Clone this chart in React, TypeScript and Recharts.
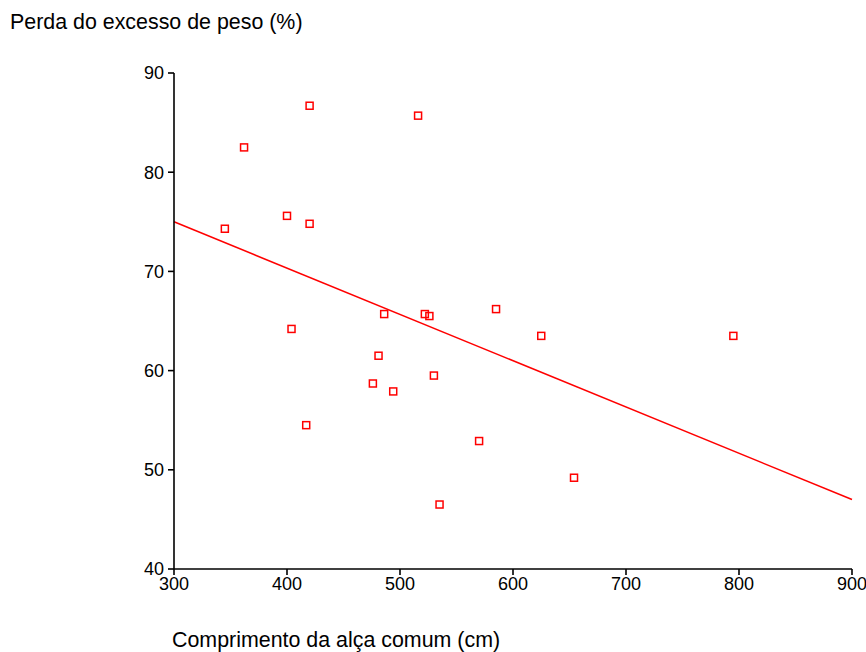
import React from "react";
import { ScatterChart, Scatter, XAxis, YAxis, ReferenceLine } from "recharts";

const lengthCm = [420, 516, 362, 400, 420, 345, 585, 486, 522, 526, 625, 795, 404, 481, 476, 494, 530, 417, 570, 654, 535];
const weightLossPct = [86.7, 85.7, 82.5, 75.6, 74.8, 74.3, 66.2, 65.7, 65.7, 65.5, 63.5, 63.5, 64.2, 61.5, 58.7, 57.9, 59.5, 54.5, 52.9, 49.2, 46.5];
const fitX = [300, 900];
const fitY = [75.0, 47.0];
const xTicks = [300, 400, 500, 600, 700, 800, 900];
const yTicks = [40, 50, 60, 70, 80, 90];
const yTitle = "Perda do excesso de peso (%)";
const xTitle = "Comprimento da alça comum (cm)";

const points = lengthCm.map((x, i) => ({ x, y: weightLossPct[i] }));

const FONT = "'Liberation Sans', Arial, sans-serif";

const HollowSquare = (props: any) => {
  const { cx, cy } = props;
  if (cx == null || cy == null) return null;
  return <rect x={cx - 3.5} y={cy - 3.5} width={7} height={7} fill="none" stroke="#ff0000" strokeWidth={1.5} />;
};

export default function App() {
  return (
    <div style={{ position: "absolute", left: 0, top: 0, width: 866, height: 652, fontFamily: FONT, background: "#fff" }}>
      <ScatterChart width={866} height={652} margin={{ top: 73, right: 14, bottom: 53, left: 114 }}>
        <XAxis
          type="number"
          dataKey="x"
          domain={[300, 900]}
          ticks={xTicks}
          allowDataOverflow
          height={30}
          stroke="#000"
          strokeWidth={1.6}
          tickSize={6}
          tickMargin={2}
          tick={{ fill: "#000", fontSize: 18, fontFamily: FONT }}
        />
        <YAxis
          type="number"
          dataKey="y"
          domain={[40, 90]}
          ticks={yTicks}
          allowDataOverflow
          width={60}
          stroke="#000"
          strokeWidth={1.6}
          tickSize={6}
          tickMargin={4}
          tick={{ fill: "#000", fontSize: 18, fontFamily: FONT }}
        />
        <ReferenceLine
          segment={[{ x: fitX[0], y: fitY[0] }, { x: fitX[1], y: fitY[1] }]}
          stroke="#ff0000"
          strokeWidth={1.5}
          ifOverflow="visible"
        />
        <Scatter data={points} shape={<HollowSquare />} isAnimationActive={false} />
      </ScatterChart>
      <div style={{ position: "absolute", left: 10, top: 12, fontSize: 21.4, lineHeight: "21px", whiteSpace: "nowrap", color: "#000" }}>
        {yTitle}
      </div>
      <div style={{ position: "absolute", left: 172, top: 630, fontSize: 21.4, lineHeight: "21px", whiteSpace: "nowrap", color: "#000" }}>
        {xTitle}
      </div>
    </div>
  );
}
